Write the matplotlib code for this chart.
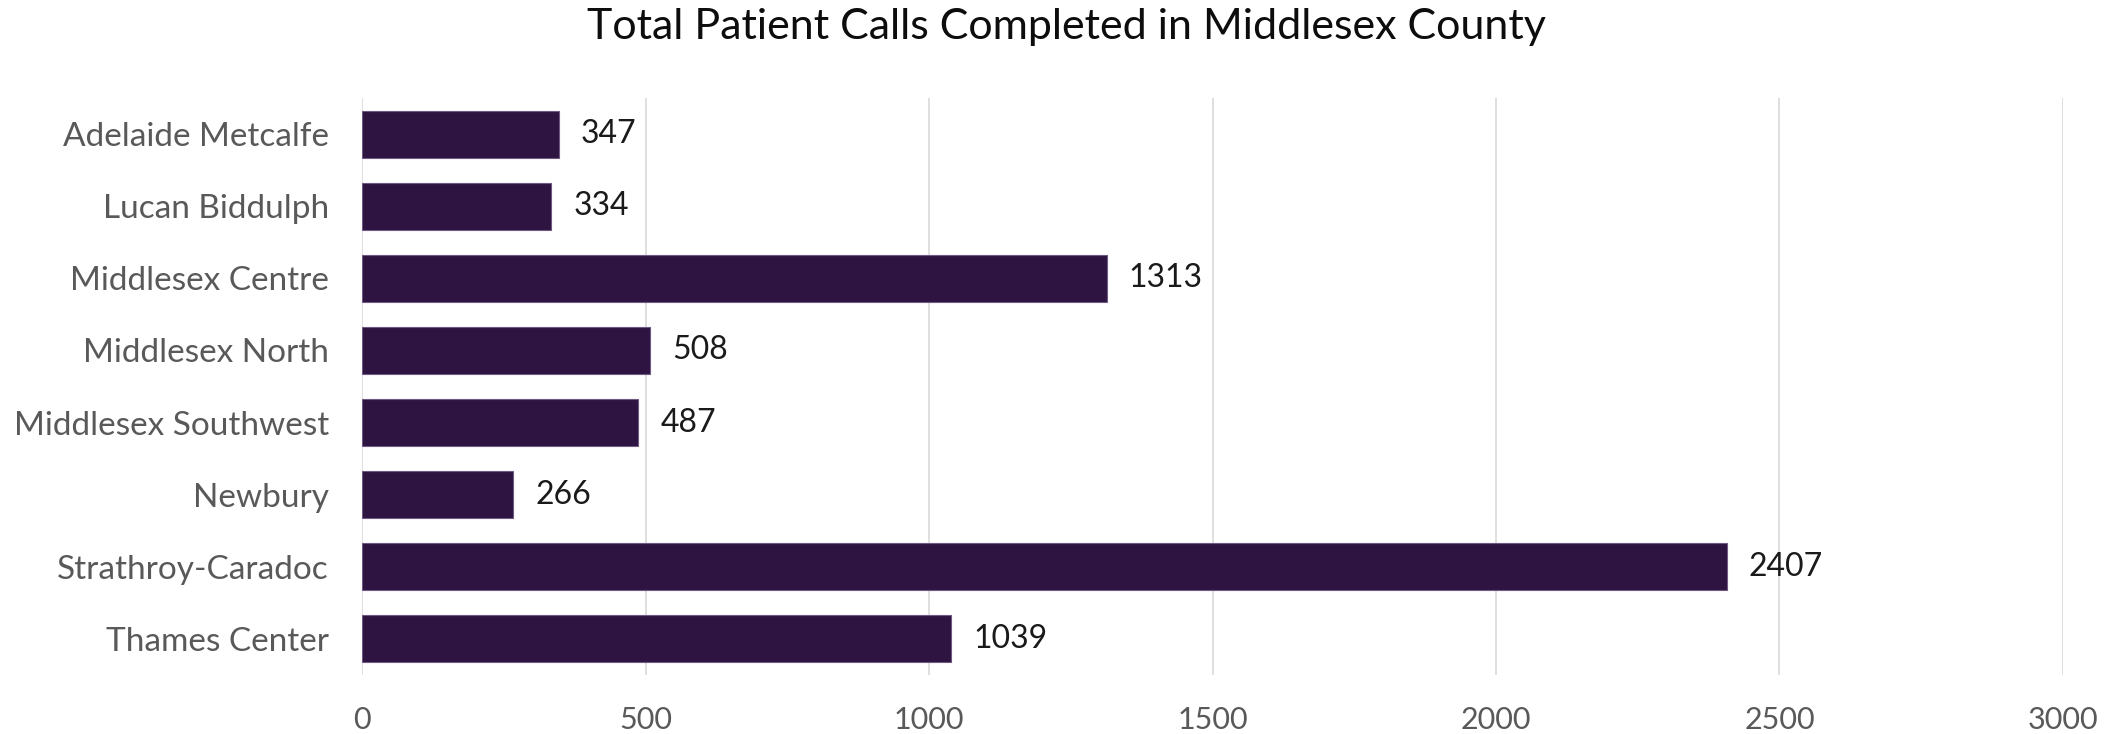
### TOTAL PATIENT CALLS COMPLETED - HORIZONTAL BAR CHART
### IMPORT LIBRARIES ###
import numpy as np
import matplotlib
matplotlib.use('Agg')
import matplotlib.pyplot as plt

### DATA ###
categories = ['Adelaide Metcalfe', 'Lucan Biddulph', 'Middlesex Centre', 'Middlesex North',
              'Middlesex Southwest', 'Newbury', 'Strathroy-Caradoc', 'Thames Center']
calls = [347, 334, 1313, 508, 487, 266, 2407, 1039]
x_ticks = [0, 500, 1000, 1500, 2000, 2500, 3000]
title = 'Total Patient Calls Completed in Middlesex County'

### PLOT ###
plt.rcParams['font.family'] = ['Lato', 'DejaVu Sans']

fig = plt.figure(figsize=(21.15, 7.34), dpi=100)
ax = fig.add_axes([0.1712, 0.0804, 0.8042, 0.786])

y = np.arange(len(categories))
bars = ax.barh(y, calls, height=0.65, color='#2e1440', edgecolor='#6e5a80', linewidth=0.8, zorder=3)

# Value labels to the right of each bar
ax.bar_label(bars, labels=[str(v) for v in calls], padding=16, fontsize=23, color='#1a1a1a')

ax.set_yticks(y)
ax.set_yticklabels(categories, fontsize=24, color='#595959')
ax.set_ylim(len(categories) - 0.5, -0.5)

ax.set_xticks(x_ticks)
ax.set_xticklabels([str(t) for t in x_ticks], fontsize=22, color='#595959')
ax.set_xlim(0, 3000)

# Gridlines and axis styling
ax.grid(axis='x', color='#d9d9d9', linewidth=1.2, zorder=0)
for s in ax.spines.values():
    s.set_visible(False)
ax.tick_params(axis='both', length=0)
ax.tick_params(axis='y', pad=24)
ax.tick_params(axis='x', pad=22)

fig.text(0.504, 0.963, title, ha='center', va='center', fontsize=31, color='#0d0d0d')

fig.savefig('out.png', dpi=100)
